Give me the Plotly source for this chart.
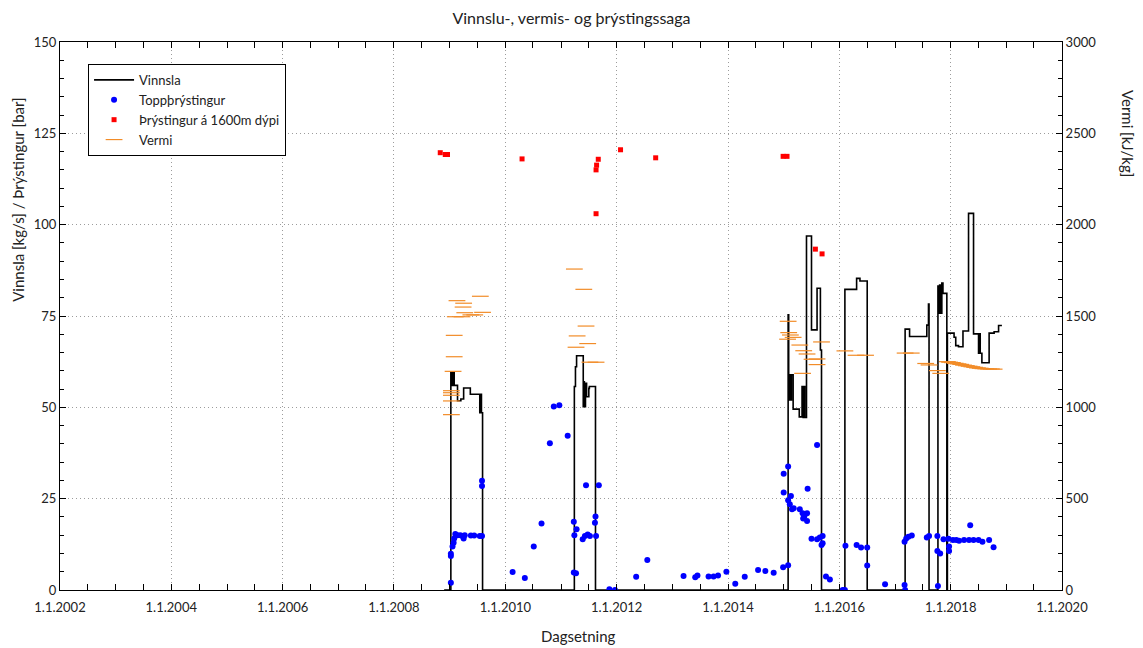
import pandas as pd
import plotly.graph_objects as go

FONT = "Lato"

# ---------------- data (decimal years) ----------------
vinnsla_year = [2008.90,
    2009.02, 2009.04, 2009.06, 2009.08, 2009.14, 2009.20, 2009.25, 2009.37, 2009.54, 2009.56, 2009.57, 2009.59,
    2011.24, 2011.26, 2011.28, 2011.40, 2011.41, 2011.42, 2011.44, 2011.46, 2011.50, 2011.51, 2011.62,
    2015.08, 2015.09, 2015.11, 2015.13, 2015.14, 2015.17, 2015.28, 2015.33, 2015.35, 2015.36, 2015.38,
    2015.41, 2015.50, 2015.60, 2015.66, 2015.68,
    2016.10, 2016.31, 2016.37, 2016.50,
    2017.18, 2017.26, 2017.57, 2017.60, 2017.61,
    2017.77, 2017.79, 2017.80, 2017.82, 2017.84, 2017.86, 2017.93, 2017.94, 2018.06, 2018.09, 2018.14,
    2018.22, 2018.32, 2018.41, 2018.50, 2018.52, 2018.53, 2018.56, 2018.69, 2018.78, 2018.86, 2018.92]
vinnsla_val = [0,
    59.5, 56.0, 59.5, 56.0, 51.8, 52.3, 55.3, 53.6, 48.5, 53.6, 48.5, 0,
    55.7, 61.1, 64.1, 50.2, 57.0, 50.2, 56.6, 52.9, 55.2, 55.7, 0,
    75.3, 52.0, 58.9, 52.0, 58.9, 49.5, 47.4, 55.7, 47.2, 55.7, 47.2,
    96.9, 71.2, 82.6, 65.7, 0,
    82.3, 85.3, 84.6, 0,
    71.4, 69.4, 72.5, 78.3, 0,
    83.2, 75.8, 83.5, 75.8, 84.0, 81.2, 0, 70.3, 69.2, 66.9, 66.6,
    70.9, 103.1, 70.1, 64.8, 70.1, 64.8, 62.2, 70.3, 70.7, 72.4, 72.4]

topp_year = [2009.02, 2009.02, 2009.02, 2009.05, 2009.07, 2009.08, 2009.10, 2009.14, 2009.19, 2009.23,
    2009.25, 2009.27, 2009.38, 2009.44, 2009.54, 2009.58, 2009.58, 2009.58,
    2010.13, 2010.35, 2010.51, 2010.65, 2010.80, 2010.87, 2010.97, 2011.12,
    2011.23, 2011.28, 2011.24, 2011.23, 2011.27, 2011.45, 2011.68, 2011.39, 2011.43, 2011.48,
    2011.52, 2011.62, 2011.61, 2011.63, 2011.87, 2011.97,
    2012.35, 2012.55, 2013.20, 2013.41, 2013.45, 2013.65, 2013.74, 2013.82, 2013.97, 2014.13,
    2014.30, 2014.54, 2014.67, 2014.82, 2014.99, 2015.08,
    2015.08, 2015.00, 2015.00, 2015.08, 2015.13, 2015.11, 2015.15, 2015.18, 2015.29, 2015.34,
    2015.37, 2015.35, 2015.42, 2015.42, 2015.43, 2015.60, 2015.50, 2015.60, 2015.65, 2015.70,
    2015.68, 2015.70, 2015.76, 2015.83,
    2016.06, 2016.10, 2016.11, 2016.31, 2016.39, 2016.50, 2016.50, 2016.82,
    2017.17, 2017.18, 2017.17, 2017.20, 2017.24, 2017.30, 2017.57, 2017.61,
    2017.76, 2017.76, 2017.81, 2017.77, 2017.87, 2017.96, 2017.97, 2017.97,
    2018.04, 2018.10, 2018.15, 2018.24, 2018.33, 2018.35, 2018.41, 2018.50, 2018.57, 2018.69, 2018.77]
topp_val = [2.0, 9.3, 9.9, 11.9, 12.9, 14.1, 15.3, 15.0, 15.0, 14.8,
    14.1, 15.0, 14.9, 14.9, 14.8, 14.8, 29.9, 28.5,
    4.9, 3.3, 11.9, 18.2, 40.2, 50.2, 50.6, 42.2,
    18.7, 16.6, 15.0, 4.8, 4.6, 28.7, 28.7, 13.9, 14.8, 15.2,
    14.8, 20.1, 18.4, 14.8, 0.2, 0.0,
    3.6, 8.2, 3.8, 3.5, 4.0, 3.7, 3.7, 4.0, 5.0, 1.7,
    3.6, 5.5, 5.2, 4.7, 6.2, 6.8,
    33.8, 31.8, 26.7, 24.6, 25.7, 23.5, 22.1, 22.4, 22.1, 21.0,
    20.1, 19.6, 21.0, 18.9, 27.7, 39.7, 14.0, 13.9, 14.4, 14.8,
    12.3, 12.8, 3.7, 2.9,
    0.0, 0.0, 12.1, 12.3, 11.6, 11.6, 6.7, 1.6,
    1.4, 0.0, 13.2, 14.1, 14.6, 14.9, 14.4, 14.8,
    14.8, 10.7, 10.0, 1.1, 13.9, 14.0, 11.9, 10.7,
    13.7, 13.7, 13.5, 13.7, 13.7, 17.7, 13.7, 13.7, 13.2, 13.7, 11.7]

dypi_year = [2008.83, 2008.92, 2008.96, 2010.30, 2011.63, 2011.63, 2011.64, 2011.67,
    2012.07, 2012.70, 2014.99, 2015.06, 2015.57, 2015.69]
dypi_val = [119.7, 119.2, 119.2, 118.0, 103.0, 115.0, 116.3, 117.9,
    120.5, 118.3, 118.7, 118.7, 93.3, 92.0]

vermi_year = [2009.03, 2009.03, 2009.03, 2009.03, 2009.03, 2009.06, 2009.08, 2009.08, 2009.10, 2009.22,
    2009.13, 2009.25, 2009.24, 2009.27, 2009.38, 2009.45, 2009.55, 2009.59,
    2011.24, 2011.41, 2011.45, 2011.29, 2011.48, 2011.27, 2011.52, 2011.63,
    2015.08, 2015.09, 2015.12, 2015.17, 2015.07, 2015.29, 2015.36, 2015.42, 2015.34, 2015.51,
    2015.60, 2015.60, 2015.68,
    2016.10, 2016.30, 2016.47,
    2017.18, 2017.29, 2017.55, 2017.61, 2017.76, 2017.82,
    2017.94, 2017.98, 2018.03, 2018.08, 2018.13, 2018.18, 2018.23, 2018.28, 2018.33, 2018.38,
    2018.43, 2018.48, 2018.53, 2018.58, 2018.63, 2018.68, 2018.73, 2018.78]
vermi_val = [960, 1035, 1066, 1080, 1091, 1197, 1277, 1394, 1496, 1496,
    1584, 1570, 1549, 1518, 1506, 1506, 1608, 1520,
    1757, 1646, 1445, 1391, 1349, 1329, 1247, 1247,
    1471, 1409, 1396, 1383, 1373, 1341, 1310, 1292, 1186, 1263,
    1265, 1234, 1358,
    1309, 1285, 1285,
    1297, 1297, 1240, 1232, 1201, 1186,
    1250, 1247, 1245, 1241, 1238, 1235, 1231, 1228, 1225, 1222,
    1219, 1216, 1214, 1212, 1211, 1210, 1210, 1209]

x_tick_years = [2002, 2004, 2006, 2008, 2010, 2012, 2014, 2016, 2018, 2020]
x_tick_labels = ["1.1.2002", "1.1.2004", "1.1.2006", "1.1.2008", "1.1.2010",
                 "1.1.2012", "1.1.2014", "1.1.2016", "1.1.2018", "1.1.2020"]


def to_dt(y):
    yr = int(y)
    a = pd.Timestamp(year=yr, month=1, day=1)
    b = pd.Timestamp(year=yr + 1, month=1, day=1)
    return a + (y - yr) * (b - a)


def dts(lst):
    return [to_dt(v) for v in lst]


fig = go.Figure()
fig.add_trace(go.Scatter(x=dts(vinnsla_year), y=vinnsla_val, mode="lines", name="Vinnsla",
                         line=dict(color="black", width=1.6, shape="hv")))
fig.add_trace(go.Scatter(x=dts(topp_year), y=topp_val, mode="markers", name="Toppþrýstingur",
                         marker=dict(color="#0000FF", size=6, symbol="circle")))
fig.add_trace(go.Scatter(x=dts(dypi_year), y=dypi_val, mode="markers", name="Þrýstingur á 1600m dýpi",
                         marker=dict(color="#FF0000", size=5, symbol="square")))
fig.add_trace(go.Scatter(x=dts(vermi_year), y=vermi_val, mode="markers", name="Vermi", yaxis="y2",
                         marker=dict(symbol="line-ew", size=12, color="#F28C28",
                                     line=dict(color="#F28C28", width=1.2))))

TXT = "#222"
axis_common = dict(showline=True, linecolor="black", linewidth=1, ticks="inside",
                   tickcolor="black", ticklen=6, zeroline=False,
                   tickfont=dict(family=FONT, size=13, color=TXT))
GRID = "#9c9c9c"
GDASH = "1px,3px"

fig.update_layout(
    width=1143, height=648,
    margin=dict(l=60, r=81, t=42, b=58),
    paper_bgcolor="white", plot_bgcolor="white",
    font=dict(family=FONT, color=TXT),
    title=dict(text="Vinnslu-, vermis- og þrýstingssaga", x=0.5, xref="container",
               y=0.972, yanchor="middle", font=dict(family=FONT, size=16, color=TXT)),
    showlegend=True,
    legend=dict(x=0.028, y=0.96, xanchor="left", yanchor="top", bgcolor="white",
                bordercolor="black", borderwidth=1, font=dict(family=FONT, size=13, color=TXT),
                tracegroupgap=0, itemwidth=40),
    xaxis=dict(axis_common, type="date",
               range=[to_dt(2002), to_dt(2020)],
               tickmode="array", tickvals=dts(x_tick_years), ticktext=x_tick_labels,
               ticklabelstandoff=5,
               showgrid=True, gridcolor=GRID, griddash=GDASH, gridwidth=1,
               mirror="allticks",
               minor=dict(tickmode="linear", tick0="2002-01-01", dtick="M6", ticks="inside",
                          ticklen=4, tickcolor="black", showgrid=False)),
    yaxis=dict(axis_common, range=[0, 150], tickmode="linear", tick0=0, dtick=25,
               showgrid=True, gridcolor=GRID, griddash=GDASH, gridwidth=1,
               mirror=True,
               minor=dict(tickmode="linear", tick0=0, dtick=5, ticks="inside", ticklen=4,
                          tickcolor="black", showgrid=False)),
    yaxis2=dict(axis_common, overlaying="y", side="right", range=[0, 3000], tickmode="linear",
                tick0=0, dtick=500, showgrid=False,
                minor=dict(tickmode="linear", tick0=0, dtick=100, ticks="inside", ticklen=4,
                           tickcolor="black", showgrid=False)),
    annotations=[
        dict(text="Vinnsla [kg/s] / Þrýstingur [bar]", xref="paper", yref="paper",
             x=-0.0419, y=0.712, xanchor="center", yanchor="middle", textangle=-90,
             showarrow=False, font=dict(family=FONT, size=15, color=TXT)),
        dict(text="Vermi [kJ/kg]", xref="paper", yref="paper",
             x=1.0659, y=0.834, xanchor="center", yanchor="middle", textangle=90,
             showarrow=False, font=dict(family=FONT, size=15, color=TXT)),
        dict(text="Dagsetning", xref="paper", yref="paper",
             x=0.517, y=-0.084, xanchor="center", yanchor="middle",
             showarrow=False, font=dict(family=FONT, size=15, color=TXT)),
    ],
)

fig.write_html("out.html")
